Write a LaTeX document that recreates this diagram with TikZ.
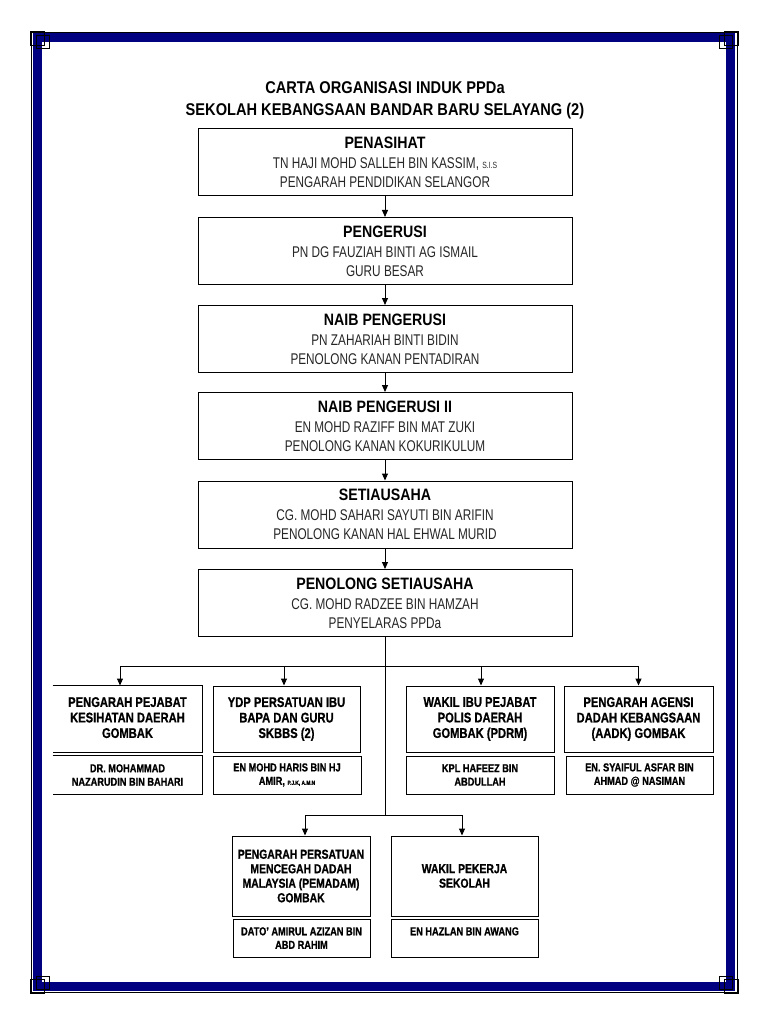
\documentclass[tikz,border=0pt]{standalone}
\usepackage{fontspec}
\usetikzlibrary{arrows.meta}
\setmainfont{Liberation Sans}
\newfontfamily\regfont{Liberation Sans}[FakeStretch=0.76]
\newfontfamily\headfont{Liberation Sans}[FakeStretch=0.86]
\newfontfamily\lowfont{Liberation Sans}[FakeStretch=0.8, FakeBold=0.8]
\definecolor{navyband}{RGB}{0,0,128}
\newcommand{\posthead}[1]{{\color{black}\headfont\bfseries\fontsize{16.5}{19}\selectfont #1}}

\begin{document}
\begin{tikzpicture}[x = 1pt, y = -1pt,
    mainbox/.style = {draw, line width = 1, minimum width = 374, minimum height = 67,
      inner sep = 0, align = center, text = black!85,
      font = \regfont\fontsize{15.5}{19}\selectfont},
    agency/.style = {draw, line width = 1, minimum height = 66, inner sep = 0,
      align = center, font = \lowfont\bfseries\fontsize{14}{15.5}\selectfont},
    person/.style = {draw, line width = 1, minimum height = 38, inner sep = 0,
      align = center, font = \lowfont\bfseries\fontsize{11.5}{13.5}\selectfont},
    arrow/.style = {-{Triangle[length = 7pt, width = 6pt]}, line width = 1}]
    \useasboundingbox (0,0) rectangle (768,1024);
    % page border
    \draw [navyband, line width = 8.5] (37.5,37.5) rectangle (730.5,986.5);
    \draw [line width = 0.9] (31,32) rectangle (737,992);
    \foreach \cx/\cy/\sx/\sy in {31/32/1/1, 737/32/-1/1, 31/992/1/-1, 737/992/-1/-1}
      \draw [line width = 0.9, shift = {(\cx,\cy)}, xscale = \sx, yscale = \sy]
        (-1,-1) rectangle (13,13) (5,3) rectangle (18,16);
    \node [align = center, font = \headfont\bfseries\fontsize{17}{22}\selectfont] (title) at (385,100)
      {CARTA ORGANISASI INDUK PPDa\\SEKOLAH KEBANGSAAN BANDAR BARU SELAYANG (2)};
    % main chain
    \node [mainbox] (penasihat) at (385,162.5) {\posthead{PENASIHAT}\\[1]
      TN HAJI MOHD SALLEH BIN KASSIM, {\fontsize{9}{10}\selectfont S.I.S}\\PENGARAH PENDIDIKAN SELANGOR};
    \node [mainbox] (pengerusi) at (385,251) {\posthead{PENGERUSI}\\[1]
      PN DG FAUZIAH BINTI AG ISMAIL\\GURU BESAR};
    \node [mainbox] (naib) at (385,339) {\posthead{NAIB PENGERUSI}\\[1]
      PN ZAHARIAH BINTI BIDIN\\PENOLONG KANAN PENTADIRAN};
    \node [mainbox] (naibii) at (385,426) {\posthead{NAIB PENGERUSI II}\\[1]
      EN MOHD RAZIFF BIN MAT ZUKI\\PENOLONG KANAN KOKURIKULUM};
    \node [mainbox] (setiausaha) at (385,514.5) {\posthead{SETIAUSAHA}\\[1]
      CG. MOHD SAHARI SAYUTI BIN ARIFIN\\PENOLONG KANAN HAL EHWAL MURID};
    \node [mainbox] (penolong) at (385,603) {\posthead{PENOLONG SETIAUSAHA}\\[1]
      CG. MOHD RADZEE BIN HAMZAH\\PENYELARAS PPDa};
    \foreach \a/\b in {penasihat/pengerusi, pengerusi/naib, naib/naibii,
                       naibii/setiausaha, setiausaha/penolong}
      \draw [arrow] (\a) -- (\b);
    % first row of agencies
    \node [agency, draw = none, minimum width = 149] (kesihatan) at (127.5,719)
      {PENGARAH PEJABAT\\KESIHATAN DAERAH\\GOMBAK\vphantom{g}};
    \node [person, draw = none, minimum width = 149] (kesihatanorg) at (127.5,775)
      {DR. MOHAMMAD\\NAZARUDIN BIN BAHARI};
    \draw [line width = 1] (kesihatan.north west) -- (kesihatan.north east)
      -- (kesihatan.south east) -- (kesihatan.south west);
    \draw [line width = 1] (kesihatanorg.north west) -- (kesihatanorg.north east)
      -- (kesihatanorg.south east) -- (kesihatanorg.south west);
    \node [agency, minimum width = 147] (ydp) at (286.5,719)
      {YDP PERSATUAN IBU\\BAPA DAN GURU\\SKBBS (2)};
    \node [person, minimum width = 148] (ydporg) at (287,775)
      {EN MOHD HARIS BIN HJ\\AMIR, {\fontsize{6}{7}\selectfont P.J.K, A.M.N}};
    \node [agency, minimum width = 148] (polis) at (480,719)
      {WAKIL IBU PEJABAT\\POLIS DAERAH\\GOMBAK (PDRM)};
    \node [person, minimum width = 148] (polisorg) at (480,775)
      {KPL HAFEEZ BIN\\ABDULLAH};
    \node [agency, minimum width = 149] (aadk) at (638.5,719)
      {PENGARAH AGENSI\\DADAH KEBANGSAAN\\(AADK) GOMBAK};
    \node [person, minimum width = 147] (aadkorg) at (639.5,775)
      {EN. SYAIFUL ASFAR BIN\\AHMAD @ NASIMAN};
    % second row
    \node [agency, minimum width = 138, minimum height = 80,
      font = \lowfont\bfseries\fontsize{13}{14.5}\selectfont] (pemadam) at (301,876)
      {PENGARAH PERSATUAN\\MENCEGAH DADAH\\MALAYSIA (PEMADAM)\\GOMBAK};
    \node [person, minimum width = 137] (pemadamorg) at (301.5,938)
      {DATO’ AMIRUL AZIZAN BIN\\ABD RAHIM};
    \node [agency, minimum width = 147, minimum height = 80,
      font = \lowfont\bfseries\fontsize{13}{14.5}\selectfont] (pekerja) at (464.5,876)
      {WAKIL PEKERJA\\SEKOLAH};
    \node [person, minimum width = 147] (pekerjaorg) at (464.5,938)
      {EN HAZLAN BIN AWANG\\\mbox{}};
    % connectors below
    \coordinate (busA) at (385,666);
    \coordinate (busB) at (385,815);
    \draw [line width = 1] (penolong) -- (busB);
    \draw [arrow] (busA) -| ([xshift = -7.5]kesihatan.north);
    \draw [arrow] (busA) -| ([xshift = -2.5]ydp.north);
    \draw [arrow] (busA) -| ([xshift = 1]polis.north);
    \draw [arrow] (busA) -| (aadk);
    \draw [arrow] (busB) -| ([xshift = 4]pemadam.north);
    \draw [arrow] (busB) -| ([xshift = -2.5]pekerja.north);
  \end{tikzpicture}
\end{document}
